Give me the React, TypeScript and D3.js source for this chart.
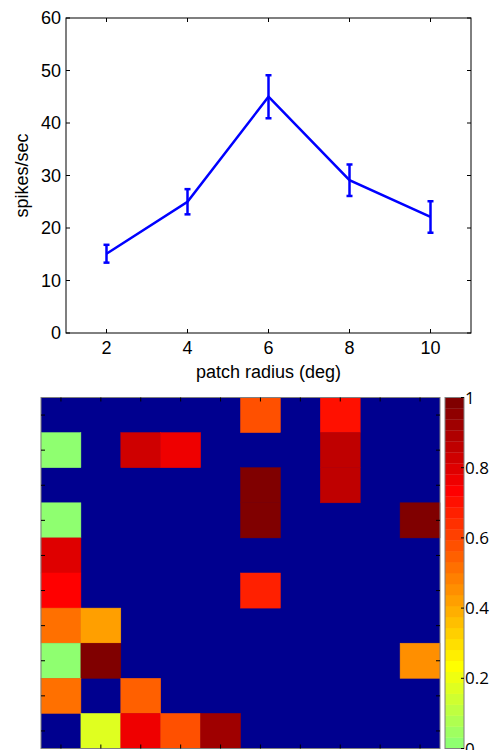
import React from "react";
import * as d3 from "d3";

// ---- top chart data ----
const radii = [2, 4, 6, 8, 10];
const rates = [15.1, 25.0, 45.0, 29.1, 22.1];
const errs = [1.7, 2.4, 4.1, 3.0, 3.0];
const yTicks = [0, 10, 20, 30, 40, 50, 60];
const xTicks = [2, 4, 6, 8, 10];

// ---- heatmap data (null = no value, drawn dark blue) ----
const heatRows: (number | null)[][] = [
  [null, null, null, null, null, 0.57, null, 0.70, null, null],
  [0.0, null, 0.83, 0.77, null, null, null, 0.86, null, null],
  [null, null, null, null, null, 1.0, null, 0.87, null, null],
  [0.0, null, null, null, null, 1.0, null, null, null, 1.0],
  [0.80, null, null, null, null, null, null, null, null, null],
  [0.73, null, null, null, null, 0.66, null, null, null, null],
  [0.53, 0.41, null, null, null, null, null, null, null, null],
  [0.0, 1.0, null, null, null, null, null, null, null, 0.45],
  [0.53, null, 0.55, null, null, null, null, null, null, null],
  [null, 0.16, 0.77, 0.58, 0.92, null, null, null, null, null],
];
const cbTicks = [0, 0.2, 0.4, 0.6, 0.8, 1];

// MATLAB jet(64)
function jet64(j: number): [number, number, number] {
  const n = 16;
  const u = (k: number) => {
    if (k < 1 || k > 47) return 0;
    if (k <= n) return k / n;
    if (k <= 31) return 1;
    return (48 - k) / n;
  };
  return [u(j - 24), u(j - 8), u(j + 8)];
}
function rgb(c: [number, number, number]) {
  return d3.rgb(c[0] * 255, c[1] * 255, c[2] * 255).formatHex();
}
function valueColor(v: number | null) {
  if (v === null) return rgb(jet64(1));
  const k = Math.max(1, Math.min(32, Math.floor(v * 32) + 1));
  return rgb(jet64(k + 32));
}

export default function App() {
  const W = 491, H = 750;
  const font = "'Liberation Sans', Arial, sans-serif";
  const fs = 18;
  // top chart
  const x = d3.scaleLinear().domain([1, 11]).range([66, 471]);
  const y = d3.scaleLinear().domain([0, 60]).range([333, 18]);
  const line = d3.line<number>().x((_, i) => x(radii[i])).y((d) => y(d));
  const tl = 4;

  // heatmap
  const hx = d3.scaleBand<number>().domain(d3.range(10)).range([41, 440]);
  const hy = d3.scaleBand<number>().domain(d3.range(10)).range([397.5, 748.5]);
  const cb = d3.scaleLinear().domain([0, 1]).range([748.5, 397.5]);
  const cbX0 = 445, cbX1 = 464;
  const bands = d3.range(32);

  return (
    <svg width={W} height={H} style={{ position: "absolute", left: 0, top: 0 }} fontFamily={font}>
      <rect width={W} height={H} fill="#fff" />
      {/* top chart frame */}
      <rect x={x(1)} y={y(60)} width={x(11) - x(1)} height={y(0) - y(60)} fill="none" stroke="#000" strokeWidth={1} />
      {yTicks.map((t) => (
        <g key={"y" + t}>
          <line x1={x(1)} x2={x(1) + tl} y1={y(t)} y2={y(t)} stroke="#000" />
          <line x1={x(11)} x2={x(11) - tl} y1={y(t)} y2={y(t)} stroke="#000" />
          <text x={x(1) - 5} y={y(t)} dy="0.36em" textAnchor="end" fontSize={fs} fill="#000">{t}</text>
        </g>
      ))}
      {xTicks.map((t) => (
        <g key={"x" + t}>
          <line x1={x(t)} x2={x(t)} y1={y(0)} y2={y(0) - tl} stroke="#000" />
          <line x1={x(t)} x2={x(t)} y1={y(60)} y2={y(60) + tl} stroke="#000" />
          <text x={x(t)} y={y(0) + 15} dy="0.36em" textAnchor="middle" fontSize={fs} fill="#000">{t}</text>
        </g>
      ))}
      <text x={x(6)} y={372} dy="0.36em" textAnchor="middle" fontSize={fs} fill="#000">patch radius (deg)</text>
      <text transform={`translate(22,${(y(0) + y(60)) / 2}) rotate(-90)`} dy="0.36em" textAnchor="middle" fontSize={fs} fill="#000">spikes/sec</text>
      <path d={line(rates) || ""} fill="none" stroke="#0000ff" strokeWidth={2.5} />
      {radii.map((r, i) => (
        <g key={"e" + r} stroke="#0000ff" strokeWidth={2.5}>
          <line x1={x(r)} x2={x(r)} y1={y(rates[i] - errs[i])} y2={y(rates[i] + errs[i])} />
          <line x1={x(r) - 3} x2={x(r) + 3} y1={y(rates[i] - errs[i])} y2={y(rates[i] - errs[i])} />
          <line x1={x(r) - 3} x2={x(r) + 3} y1={y(rates[i] + errs[i])} y2={y(rates[i] + errs[i])} />
        </g>
      ))}

      {/* heatmap */}
      <rect x={41} y={397.5} width={399} height={351} fill={valueColor(null)} />
      {heatRows.map((row, ri) =>
        row.map((v, ci) =>
          v === null ? null : (
            <rect key={`c${ri}-${ci}`} x={hx(ci)} y={hy(ri)} width={hx.bandwidth()} height={hy.bandwidth()} fill={valueColor(v)} stroke={valueColor(v)} strokeWidth={0.5} />
          )
        )
      )}
      <rect x={41} y={397.5} width={399} height={351} fill="none" stroke="#7f7f7f" strokeWidth={1} />
      {d3.range(10).map((i) => (
        <g key={"ht" + i} stroke="#000" strokeWidth={1}>
          <line x1={hx(i)! + hx.bandwidth() / 2} x2={hx(i)! + hx.bandwidth() / 2} y1={397.5} y2={397.5 + tl} />
          <line x1={hx(i)! + hx.bandwidth() / 2} x2={hx(i)! + hx.bandwidth() / 2} y1={748.5} y2={748.5 - tl} />
          <line x1={41} x2={41 + tl} y1={hy(i)! + hy.bandwidth() / 2} y2={hy(i)! + hy.bandwidth() / 2} />
          <line x1={440} x2={440 - tl} y1={hy(i)! + hy.bandwidth() / 2} y2={hy(i)! + hy.bandwidth() / 2} />
        </g>
      ))}

      {/* colorbar */}
      {bands.map((b) => (
        <rect key={"b" + b} x={cbX0} y={cb((b + 1) / 32)} width={cbX1 - cbX0} height={cb(b / 32) - cb((b + 1) / 32) + 0.3} fill={rgb(jet64(b + 33))} />
      ))}
      <rect x={cbX0} y={397.5} width={cbX1 - cbX0} height={351} fill="none" stroke="#7f7f7f" strokeWidth={1} />
      {cbTicks.map((t) => (
        <g key={"cb" + t}>
          <line x1={cbX1} x2={cbX1 - 3} y1={cb(t)} y2={cb(t)} stroke="#000" />
          <text x={cbX1 + 1} y={cb(t)} dy="0.36em" fontSize={17} fill="#000" fontFamily="'Open Sans', 'Noto Sans', sans-serif">{t}</text>
        </g>
      ))}
    </svg>
  );
}
